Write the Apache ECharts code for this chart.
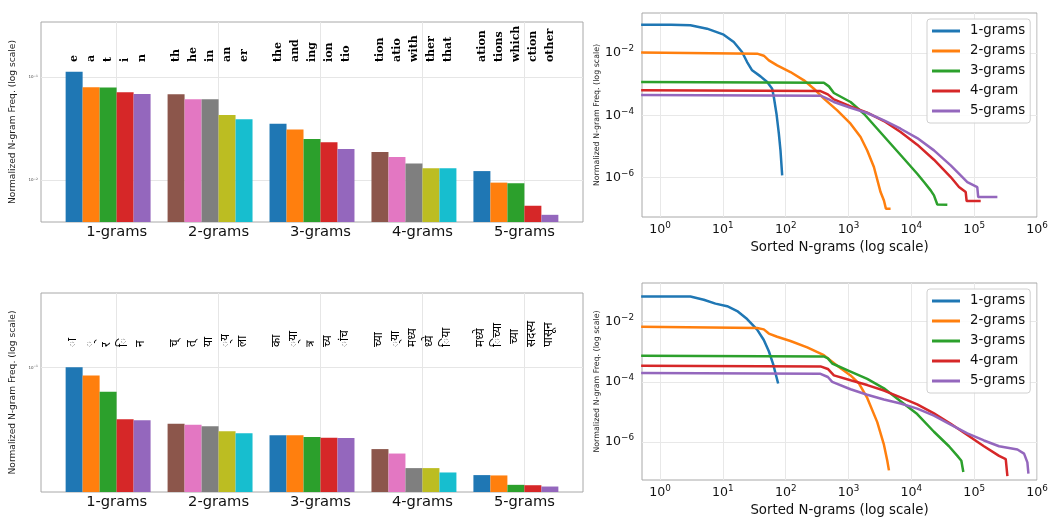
<!DOCTYPE html>
<html><head><meta charset="utf-8">
<script src="https://cdn.jsdelivr.net/npm/echarts@6/dist/echarts.min.js"></script>
<style>html,body{margin:0;padding:0;background:#fff}#c{width:1063px;height:518px}</style>
</head><body><div id="c"></div>
<script>
const palette = ['#1f77b4','#ff7f0e','#2ca02c','#d62728','#9467bd','#8c564b','#e377c2','#7f7f7f','#bcbd22','#17becf'];
const groups = ['1-grams','2-grams','3-grams','4-grams','5-grams'];
const curveNames = ['1-grams','2-grams','3-grams','4-gram','5-grams'];

// English top n-grams and normalized frequencies
const enNgrams1 = ['e','a','t','i','n'];
const enNgrams2 = ['th','he','in','an','er'];
const enNgrams3 = ['the','and','ing','ion','tio'];
const enNgrams4 = ['tion','atio','with','ther','that'];
const enNgrams5 = ['ation','tions','which','ction','other'];
const enFreq1 = [0.1126, 0.0794, 0.0788, 0.0710, 0.0684];
const enFreq2 = [0.0679, 0.0608, 0.0608, 0.0428, 0.0388];
const enFreq3 = [0.0352, 0.0308, 0.0250, 0.0232, 0.0200];
const enFreq4 = [0.0187, 0.0167, 0.0144, 0.0130, 0.0130];
const enFreq5 = [0.01218, 0.00941, 0.00928, 0.00561, 0.00458];

// Marathi top n-grams and normalized frequencies
const mrNgrams1 = ['ा','्','र','ि','न'];
const mrNgrams2 = ['च्','त्','या','्य','ला'];
const mrNgrams3 = ['का','्या','त्र','च्य','ांच'];
const mrNgrams4 = ['च्या','्या ','मध्य','ध्ये','िया '];
const mrNgrams5 = ['मध्ये','िच्या',' च्या','सदस्य','पासून'];
const mrFreq1 = [0.1006, 0.0887, 0.0694, 0.0460, 0.0453];
const mrFreq2 = [0.0430, 0.0422, 0.0414, 0.0384, 0.0372];
const mrFreq3 = [0.0361, 0.0361, 0.0351, 0.0347, 0.0346];
const mrFreq4 = [0.0293, 0.0274, 0.0220, 0.0220, 0.0206];
const mrFreq5 = [0.0198, 0.0197, 0.0171, 0.0170, 0.01667];

// Sorted n-gram frequency curves [rank, freq]
const enCurve1 = [[0.5,0.081],[1.5,0.0805],[3.04,0.0773],[5.6,0.0604],[10.3,0.0387],[14.9,0.0225],[20.2,0.0108],[24.3,0.00514],[29.2,0.00278],[39.7,0.00178],[50.7,0.00117],[60.9,0.000718],[64.7,0.000389],[71.3,0.000113],[77.8,2.58e-5],[82.6,7.5e-6],[87.9,1.19e-6]];
const enCurve2 = [[0.5,0.0103],[35.1,0.00952],[44.8,0.0082],[53.9,0.00582],[73.1,0.00402],[119,0.00245],[195,0.00133],[281,0.000718],[405,0.000343],[661,0.000145],[1077,5.4e-5],[1555,2.02e-5],[1985,7.5e-6],[2535,2.2e-6],[3236,3.47e-7],[3660,1.87e-7],[3940,1.01e-7],[4670,1.01e-7]];
const enCurve3 = [[0.5,0.00117],[405,0.00112],[487,0.000851],[585,0.000521],[1077,0.000268],[1757,0.000113],[2865,3.73e-5],[4670,1.23e-5],[7620,4.07e-6],[12400,1.34e-6],[15900,7.26e-7],[20300,3.93e-7],[22900,2.71e-7],[25900,1.39e-7],[37400,1.35e-7]];
const enCurve4 = [[0.5,0.000634],[358,0.000604],[469,0.000472],[585,0.000326],[1077,0.000195],[1985,0.000122],[3660,6.58e-5],[6740,2.92e-5],[12400,1.15e-5],[22900,3.78e-6],[42300,1.05e-6],[57300,5.02e-7],[73300,3.47e-7],[75900,1.78e-7],[127000,1.78e-7]];
const enCurve5 = [[0.5,0.000449],[358,0.000427],[487,0.000326],[585,0.000268],[1077,0.000176],[1985,0.000119],[3660,6.92e-5],[6740,3.73e-5],[12400,1.87e-5],[22900,7.54e-6],[42300,2.49e-6],[60900,1.19e-6],[77800,7.26e-7],[112000,5.02e-7],[116000,2.4e-7],[234000,2.4e-7]];
const mrCurve1 = [[0.5,0.0683],[3.04,0.0683],[4.96,0.0533],[7.62,0.0397],[11.7,0.0326],[16.9,0.0225],[24.3,0.0122],[35.1,0.0054],[44.8,0.00245],[53.9,0.00104],[63.1,0.000389],[71.3,0.000145],[75.8,8.84e-5]];
const mrCurve2 = [[0.5,0.00675],[35.1,0.00611],[44.8,0.00553],[53.9,0.00402],[73.1,0.00314],[119,0.00228],[220,0.00139],[405,0.000773],[661,0.000343],[1077,0.000164],[1462,8.84e-5],[1985,2.92e-5],[2865,4.6e-6],[3660,8.2e-7],[4140,2.4e-7],[4400,1.15e-7]];
const mrCurve3 = [[0.5,0.000734],[405,0.0007],[469,0.000604],[550,0.000407],[1077,0.00022],[1985,0.000125],[3660,6.11e-5],[6740,2.28e-5],[12400,8.51e-6],[22900,2.2e-6],[39700,7.26e-7],[54000,3.47e-7],[62500,2.4e-7],[67200,1.01e-7]];
const mrCurve4 = [[0.5,0.000343],[358,0.000326],[469,0.000268],[585,0.000164],[1077,0.000113],[1985,7.82e-5],[3660,5.14e-5],[6740,3.07e-5],[12400,1.78e-5],[22900,8.95e-6],[42300,4.07e-6],[77800,1.72e-6],[143000,7.26e-7],[249000,3.47e-7],[318000,2.71e-7],[338000,7.35e-8]];
const mrCurve5 = [[0.5,0.000195],[358,0.000185],[469,0.000145],[550,0.0001],[1077,5.68e-5],[1985,3.73e-5],[3660,2.58e-5],[6740,1.92e-5],[12400,1.29e-5],[22900,7.54e-6],[42300,3.78e-6],[77800,1.95e-6],[143000,1.13e-6],[249000,7.26e-7],[488000,5.68e-7],[622000,4.12e-7],[703000,2.12e-7],[730000,8.95e-8]];

// tick values
const barYTicks = [0.01, 0.1];
const lineXTicks = [1, 10, 100, 1000, 10000, 100000, 1000000];
const lineYTicks = [1e-6, 1e-4, 1e-2];
const groupTicks = [0, 1, 2, 3, 4];

const BW = 1 / 6;             // bar width in group units
const X_MIN = -0.7417, X_MAX = 4.575;
const enY = [0.0039, 0.342];
const mrY = [0.01535, 0.3077];

const SANS = 'DejaVu Sans';
const DEVA = "'Noto Sans Devanagari','Lohit Devanagari','Noto Sans','FreeSans',sans-serif";

function pos(i, j) { return i + (j - 2.5) * BW; }
function barData(freqs) {
  const out = [];
  freqs.forEach((arr, i) => arr.forEach((v, j) => out.push({ value: [pos(i, j), v], itemStyle: { color: palette[(i % 2) * 5 + j] } })));
  return out;
}
function labelPositions() { const p = []; for (let i = 0; i < 5; i++) for (let j = 0; j < 5; j++) p.push(pos(i, j)); return p; }
function idxOf(v) { const k = Math.round(v / BW + 2.5); const i = Math.floor(k / 6), j = k - 6 * i; return 5 * i + j; }
function expStr(v) { const e = Math.round(Math.log10(v)); return e < 0 ? '\u2212' + (-e) : String(e); }

function barRender(yMin) {
  return function (params, api) {
    const x = api.value(0), v = api.value(1);
    const top = api.coord([x, v]);
    const l = api.coord([x - BW / 2, v])[0];
    const r = api.coord([x + BW / 2, v])[0];
    const b = api.coord([x, yMin])[1];
    return { type: 'rect', shape: { x: l, y: top[1], width: r - l, height: b - top[1] }, style: { fill: api.visual('color') } };
  };
}

const enLabels = [].concat(enNgrams1, enNgrams2, enNgrams3, enNgrams4, enNgrams5);
const mrLabels = [].concat(mrNgrams1, mrNgrams2, mrNgrams3, mrNgrams4, mrNgrams5);
const lp = labelPositions();

const grids = [
  { left: 41, top: 22, width: 542, height: 200 },
  { left: 642, top: 13, width: 395, height: 204 },
  { left: 41, top: 293, width: 542, height: 199 },
  { left: 642, top: 283, width: 395, height: 203 }
].map(g => Object.assign(g, { show: true, borderColor: '#a8a8a8', borderWidth: 1, backgroundColor: 'transparent' }));

function groupAxis(gi) {
  return {
    type: 'value', gridIndex: gi, min: X_MIN, max: X_MAX,
    axisLine: { show: false },
    axisTick: { show: false, customValues: groupTicks },
    splitLine: { show: true, lineStyle: { color: '#e6e6e6', width: 1 } },
    axisLabel: { customValues: groupTicks, margin: 3, formatter: v => groups[Math.round(v)], fontFamily: SANS, fontSize: 14.7, color: '#111' }
  };
}
function labelAxis(gi, labels, offset, font) {
  return {
    type: 'value', gridIndex: gi, min: X_MIN, max: X_MAX, position: 'bottom', offset: offset,
    axisLine: { show: false },
    axisTick: { show: false, customValues: lp },
    splitLine: { show: false },
    axisLabel: Object.assign({ customValues: lp, inside: true, rotate: 90, margin: 0, formatter: v => labels[idxOf(v)], color: '#000' }, font)
  };
}
function barYAxis(gi, ext) {
  return {
    type: 'log', logBase: 10, gridIndex: gi, min: ext[0], max: ext[1],
    name: 'Normalized N-gram Freq. (log scale)', nameLocation: 'middle', nameGap: 17,
    nameTextStyle: { fontFamily: SANS, fontSize: 9.1, color: '#222' },
    axisLine: { show: false },
    axisTick: { show: false, customValues: barYTicks },
    splitLine: { show: true, lineStyle: { color: '#e6e6e6', width: 1 } },
    axisLabel: { customValues: barYTicks, margin: 3, formatter: v => '{b|10}{s|' + expStr(v) + '}',
      rich: { b: { fontSize: 4, fontFamily: SANS, color: '#444', lineHeight: 5 }, s: { fontSize: 3, fontFamily: SANS, color: '#444', verticalAlign: 'top', lineHeight: 3 } } }
  };
}
const supRich = {
  b: { fontSize: 12.6, fontFamily: SANS, color: '#111', lineHeight: 17 },
  s: { fontSize: 8.8, fontFamily: SANS, color: '#111', verticalAlign: 'top', lineHeight: 9 }
};
function lineXAxis(gi) {
  return {
    type: 'log', logBase: 10, gridIndex: gi, min: 0.516, max: 1000000,
    name: 'Sorted N-grams (log scale)', nameLocation: 'middle', nameGap: 24,
    nameTextStyle: { fontFamily: SANS, fontSize: 13.3, color: '#111' },
    axisLine: { show: false },
    axisTick: { show: false, customValues: lineXTicks },
    splitLine: { show: true, lineStyle: { color: '#e8e8e8', width: 1 } },
    axisLabel: { customValues: lineXTicks, margin: 4, formatter: v => '{b|10}{s|' + expStr(v) + '}', rich: supRich }
  };
}
function lineYAxis(gi) {
  return {
    type: 'log', logBase: 10, gridIndex: gi, min: 5.5e-8, max: 0.192,
    name: 'Normalized N-gram Freq. (log scale)', nameLocation: 'middle', nameGap: 37,
    nameTextStyle: { fontFamily: SANS, fontSize: 7.9, color: '#222' },
    axisLine: { show: false },
    axisTick: { show: false, customValues: lineYTicks },
    splitLine: { show: true, lineStyle: { color: '#e8e8e8', width: 1 } },
    axisLabel: { customValues: lineYTicks, margin: 8, formatter: v => '{b|10}{s|' + expStr(v) + '}', rich: supRich }
  };
}

const serifFont = { fontFamily: 'DejaVu Serif', fontWeight: 'bold', fontSize: 11 };
const devaFont = { fontFamily: DEVA, fontSize: 12 };

const series = [];
series.push({ type: 'custom', xAxisIndex: 0, yAxisIndex: 0, renderItem: barRender(enY[0]), clip: true, encode: { x: 0, y: 1 },
  data: barData([enFreq1, enFreq2, enFreq3, enFreq4, enFreq5]) });
series.push({ type: 'custom', xAxisIndex: 3, yAxisIndex: 2, renderItem: barRender(mrY[0]), clip: true, encode: { x: 0, y: 1 },
  data: barData([mrFreq1, mrFreq2, mrFreq3, mrFreq4, mrFreq5]) });
const enCurves = [enCurve1, enCurve2, enCurve3, enCurve4, enCurve5];
const mrCurves = [mrCurve1, mrCurve2, mrCurve3, mrCurve4, mrCurve5];
enCurves.forEach((d, k) => series.push({ type: 'line', name: curveNames[k], xAxisIndex: 2, yAxisIndex: 1, data: d,
  showSymbol: false, symbol: 'none', clip: true, color: palette[k], lineStyle: { width: 2.5, color: palette[k] } }));
mrCurves.forEach((d, k) => series.push({ type: 'line', name: curveNames[k], xAxisIndex: 5, yAxisIndex: 3, data: d,
  showSymbol: false, symbol: 'none', clip: true, color: palette[k], lineStyle: { width: 2.5, color: palette[k] } }));

function legend(top) {
  return {
    data: curveNames, orient: 'vertical', left: 927, top: top, icon: 'rect', itemWidth: 28, itemHeight: 3, itemGap: 5,
    padding: [4.5, 5, 4.5, 5], backgroundColor: 'rgba(255,255,255,0.85)', borderColor: '#d0d0d0', borderWidth: 1, borderRadius: 3,
    textStyle: { fontFamily: SANS, fontSize: 13.3, color: '#111', lineHeight: 15, padding: [0, 0, 0, 5] },
    selectedMode: false
  };
}

const option = {
  animation: false,
  backgroundColor: '#fff',
  grid: grids,
  xAxis: [groupAxis(0), labelAxis(0, enLabels, -160, serifFont), lineXAxis(1), groupAxis(2), labelAxis(2, mrLabels, -145, devaFont), lineXAxis(3)],
  yAxis: [barYAxis(0, enY), lineYAxis(1), barYAxis(2, mrY), lineYAxis(3)],
  legend: [legend(19), legend(289)],
  series: series
};
const chart = echarts.init(document.getElementById('c'), null, { renderer: 'canvas' });
chart.setOption(option);
</script></body></html>
